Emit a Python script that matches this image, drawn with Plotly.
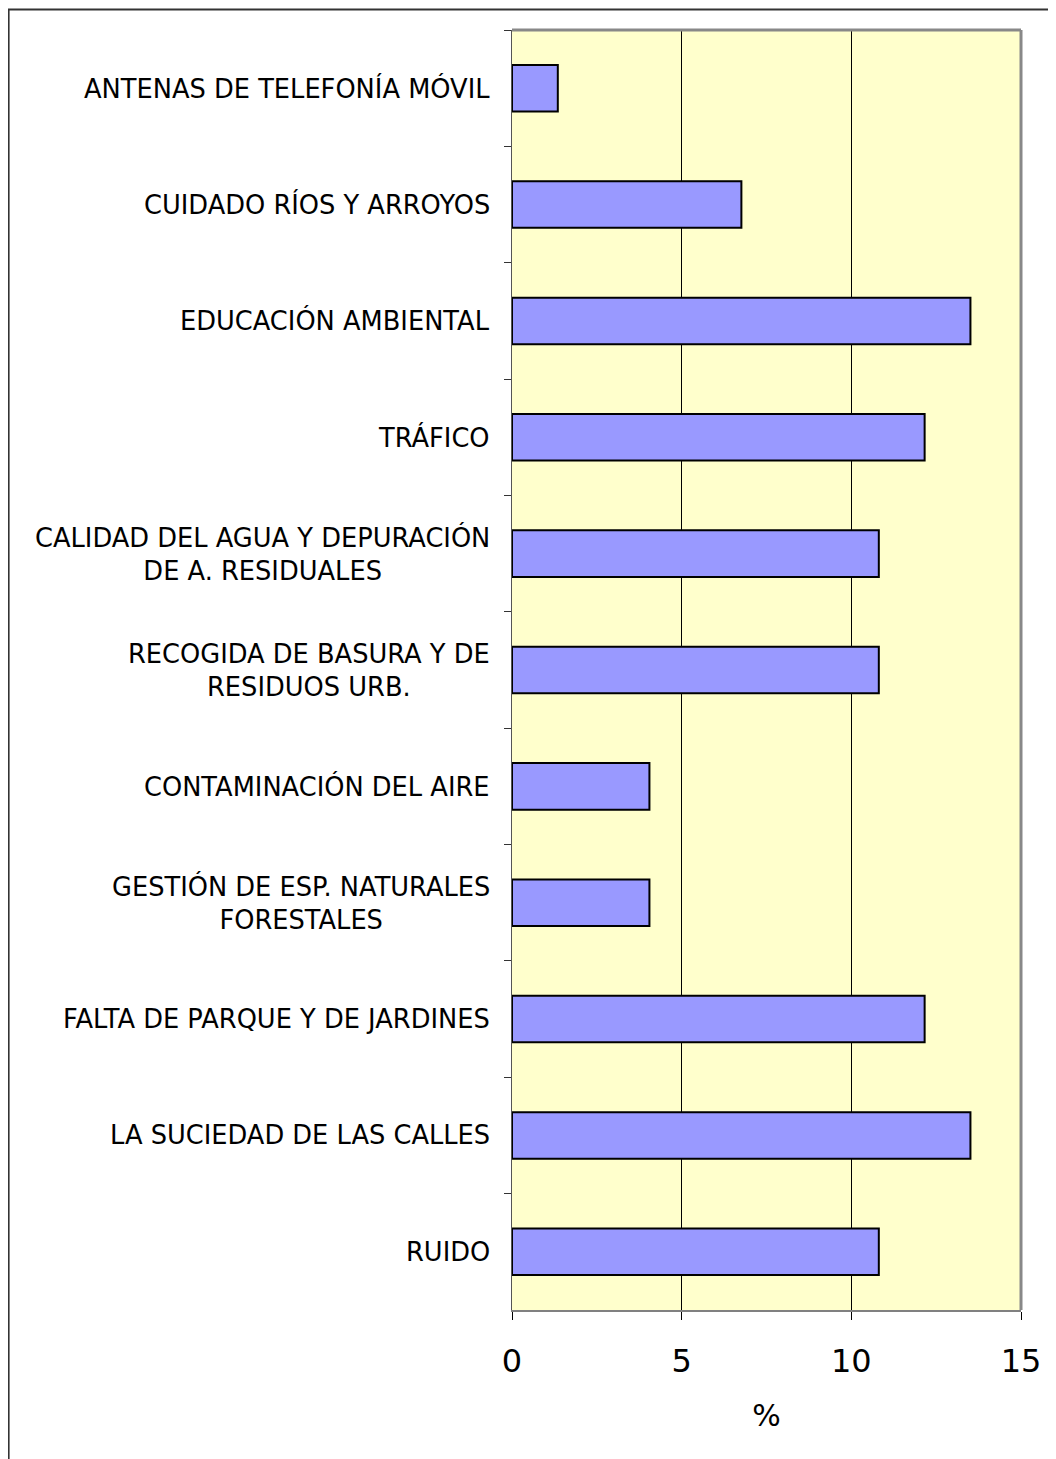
import plotly.graph_objects as go

categories = [
    "ANTENAS DE TELEFONÍA MÓVIL",
    "CUIDADO RÍOS Y ARROYOS",
    "EDUCACIÓN AMBIENTAL",
    "TRÁFICO",
    "CALIDAD DEL AGUA Y DEPURACIÓN<br>DE A. RESIDUALES",
    "RECOGIDA DE BASURA Y DE<br>RESIDUOS URB.",
    "CONTAMINACIÓN DEL AIRE",
    "GESTIÓN DE ESP. NATURALES<br>FORESTALES",
    "FALTA DE PARQUE Y DE JARDINES",
    "LA SUCIEDAD DE LAS CALLES",
    "RUIDO",
]
values = [1.35, 6.76, 13.51, 12.16, 10.81, 10.81, 4.05, 4.05, 12.16, 13.51, 10.81]
x_ticks = [0, 5, 10, 15]

FONT = "DejaVu Sans"

fig = go.Figure(
    go.Bar(
        y=categories,
        x=values,
        orientation="h",
        marker=dict(color="#9999FF", line=dict(color="#000000", width=2)),
        width=0.4,
    )
)

annotations = [
    dict(
        text=c, x=0, xref="paper", y=c, yref="y",
        xanchor="right", yanchor="middle", align="center", xshift=-20,
        showarrow=False, font=dict(family=FONT, size=25.7, color="#000000"),
    )
    for c in categories
]

fig.update_layout(
    width=1056, height=1459,
    margin=dict(l=504, r=43, t=22, b=157),
    paper_bgcolor="#FFFFFF",
    plot_bgcolor="#FFFFCC",
    showlegend=False,
    font=dict(family=FONT, color="#000000"),
    annotations=annotations,
    xaxis=dict(
        range=[0, 15], tickvals=x_ticks, ticktext=[str(v) for v in x_ticks],
        showgrid=True, gridcolor="#000000", gridwidth=1,
        zeroline=False,
        showline=True, linecolor="#808080", linewidth=2,
        ticks="outside", ticklen=8, tickcolor="#000000", tickwidth=1,
        ticklabelstandoff=14,
        tickfont=dict(family=FONT, size=32, color="#000000"),
        title=dict(text="%", font=dict(family=FONT, size=30, color="#000000"), standoff=26),
    ),
    yaxis=dict(
        autorange="reversed", type="category",
        showticklabels=False,
        showgrid=False, zeroline=False,
        showline=True, linecolor="#555555", linewidth=1,
        ticks="outside", tickson="boundaries", ticklen=7, tickcolor="#333333",
    ),
    shapes=[
        dict(type="line", xref="paper", yref="paper", x0=0, x1=1, y0=1, y1=1,
             line=dict(color="#888888", width=3)),
        dict(type="line", xref="paper", yref="paper", x0=1, x1=1, y0=0, y1=1,
             line=dict(color="#888888", width=3)),
        dict(type="rect", xref="paper", yref="paper",
             x0=-0.989, x1=1.12, y0=-0.15, y1=1.016,
             line=dict(color="#333333", width=2)),
    ],
)

fig.write_html("out.html")
